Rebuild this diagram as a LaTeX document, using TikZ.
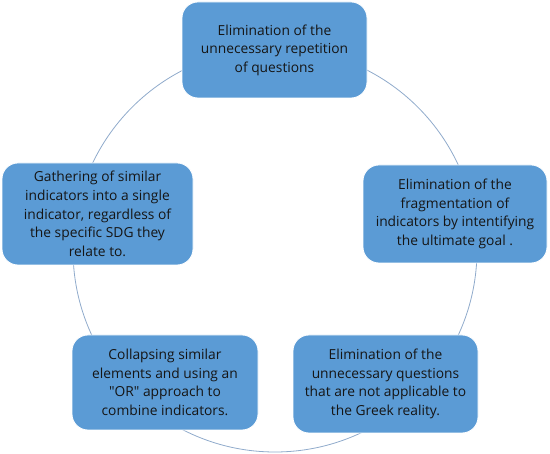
\documentclass[tikz,border=0pt]{standalone}
\usepackage{fontspec}
\setmainfont{Open Sans}
\definecolor{boxblue}{HTML}{5B9BD5}
\definecolor{ringblue}{HTML}{8FAACB}
\definecolor{txt}{HTML}{151515}
\tikzset{
  cyclebox/.style={draw=white, line width=0.8pt, fill=boxblue, rounded corners=16pt,
    align=center, text=txt, inner sep=0pt,
    font=\fontsize{13.8}{18.6}\selectfont},
  ring/.style={draw=ringblue, line width=0.8pt}
}
\begin{document}
\begin{tikzpicture}[x=1pt,y=-1pt]
\useasboundingbox (0,0) rectangle (550,454);
\coordinate (c) at (275,250);
\draw[ring] (c) circle[radius=202pt];
\node[cyclebox, minimum width=185pt, minimum height=96pt] (n1) at (274.5,50)
  {Elimination of the\\unnecessary repetition\\of questions};
\node[cyclebox, minimum width=184pt, minimum height=98pt] (n2) at (455,214)
  {Elimination of the\\fragmentation of\\indicators by intentifying\\the ultimate goal .};
\node[cyclebox, minimum width=185pt, minimum height=98pt] (n3) at (385.5,384)
  {Elimination of the\\unnecessary questions\\that are not applicable to\\the Greek reality.};
\node[cyclebox, minimum width=186pt, minimum height=95pt] (n4) at (165,382.5)
  {Collapsing similar\\elements and using an\\\textquotedbl OR\textquotedbl{} approach to\\combine indicators.};
\node[cyclebox, minimum width=191pt, minimum height=102pt] (n5) at (97.5,214)
  {Gathering of similar\\indicators into a single\\indicator, regardless of\\the specific SDG they\\relate to.};
\end{tikzpicture}
\end{document}
